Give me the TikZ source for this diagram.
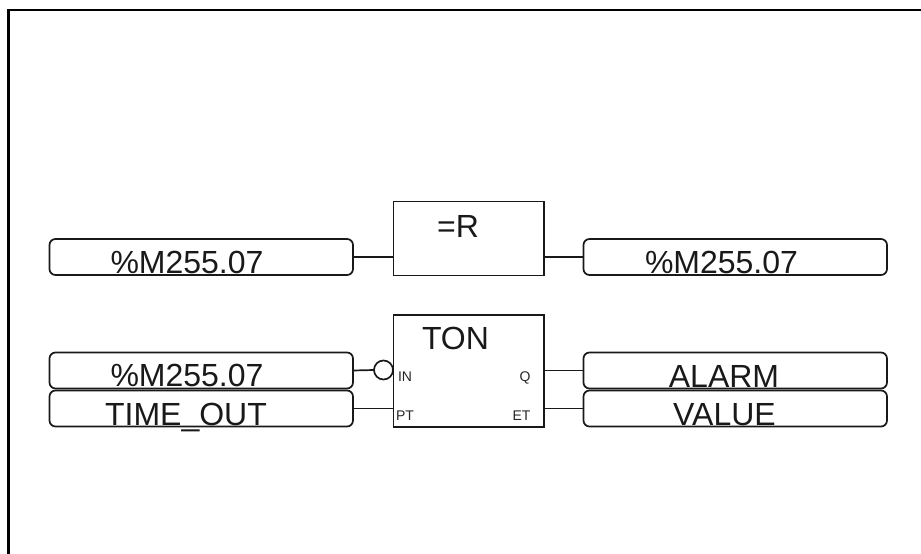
\documentclass[tikz,border=0pt]{standalone}
\usepackage{fontspec}
\setmainfont{Liberation Sans}
\tikzset{
  x=1pt,y=-1pt,
  frameline/.style={line width=2.6pt,line cap=butt},
  wire/.style={line width=1.7pt,draw=black!90},
  varbox/.style={draw=black!90,line width=1.7pt,rounded corners=6pt,minimum width=303.5pt,minimum height=36pt,inner sep=0pt,outer sep=0pt},
  fblock/.style={draw=black!90,line width=1.7pt,minimum width=150.5pt,inner sep=0pt,outer sep=0pt},
  bubble/.style={circle,draw=black!90,line width=1.7pt,minimum size=19pt,inner sep=0pt,outer sep=0pt},
  bigtext/.style={font=\fontsize{32}{32}\selectfont,anchor=base,inner sep=0pt,text=black!90},
  pintext/.style={font=\fontsize{14}{14}\selectfont,anchor=base,inner sep=0pt,text=black!85}
}
\begin{document}
\begin{tikzpicture}
\useasboundingbox (0,0) rectangle (921,554);
\coordinate (fa) at (921,10);
\coordinate (fb) at (8.5,10);
\coordinate (fc) at (8.5,554);
\draw[frameline] (fa) -- (fb) -- (fc);
% boxes
\node[varbox] (v1) at (201.25,257) {};
\node[varbox] (v2) at (201.25,370.5) {};
\node[varbox] (v3) at (201.25,408.5) {};
\node[varbox] (o1) at (735.25,257) {};
\node[varbox] (o2) at (735.25,370.5) {};
\node[varbox] (o3) at (735.25,408.5) {};
\node[fblock,minimum height=74pt] (rb) at (468.75,238.5) {};
\node[fblock,minimum height=111.5pt] (ton) at (468.75,371) {};
\node[bubble] (neg) at (383.5,370) {};
% connectors
\draw[wire] (v1.east) -- (v1.east -| rb.west);
\draw[wire] (rb.east |- o1.west) -- (o1.west);
\draw[wire] (v2.east) -- (neg.west);
\draw[wire] (v3.east) -- (v3.east -| ton.west);
\draw[wire] (ton.east |- o2.west) -- (o2.west);
\draw[wire] (ton.east |- o3.west) -- (o3.west);
% labels
\node[bigtext] (t1) at (187,273) {\%M255.07};
\node[bigtext] (t2) at (187,386.5) {\%M255.07};
\node[bigtext] (t3) at (186,425) {TIME\_OUT};
\node[bigtext] (t4) at (721.5,273) {\%M255.07};
\node[bigtext] (t5) at (724,387) {ALARM};
\node[bigtext] (t6) at (724.5,425) {VALUE};
\node[bigtext] (t7) at (458,237) {=R};
\node[bigtext] (t8) at (455.5,349) {TON};
\node[pintext] (p1) at (405,381.5) {IN};
\node[pintext] (p2) at (405,420) {PT};
\node[pintext] (p3) at (525,381.5) {Q};
\node[pintext] (p4) at (521.5,420) {ET};
\end{tikzpicture}
\end{document}
